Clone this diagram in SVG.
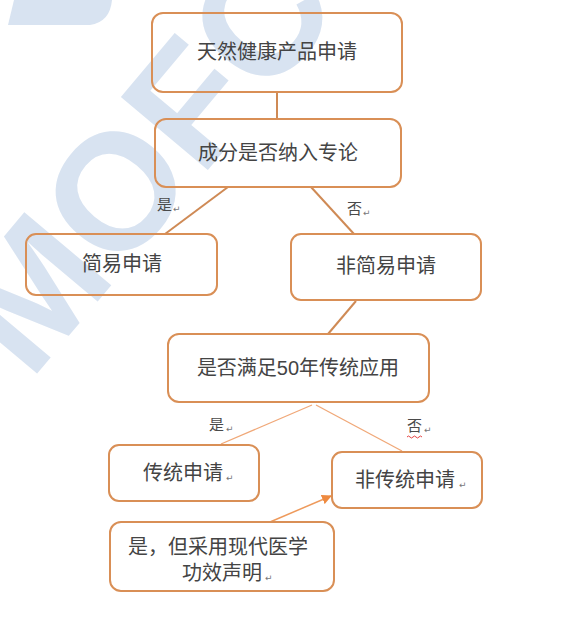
<svg xmlns="http://www.w3.org/2000/svg" width="574" height="618" viewBox="0 0 574 618">
<style>
.box{fill:none;stroke:#d98f56;stroke-width:2}
.t{font-family:"Liberation Sans","Noto Sans CJK SC",sans-serif;font-size:20px;fill:#444444}
.lab{font-family:"Liberation Serif","Noto Sans CJK SC",serif;font-size:15px;fill:#4a4a4a}
.pm{font-family:"DejaVu Sans",sans-serif;font-size:9px;fill:#777}
.c1{stroke:#cf8a55;stroke-width:2;fill:none}
.c2{stroke:#f0a878;stroke-width:1.3;fill:none}
.wm{font-family:"Liberation Sans",sans-serif;font-weight:bold;font-size:165px;fill:#d8e3f1}
</style>
<defs>
<marker id="ah" markerWidth="10" markerHeight="10" refX="9" refY="5" orient="auto" markerUnits="userSpaceOnUse">
<path d="M0,0 L10,5 L0,10 Z" fill="#ee8a40"/>
</marker>
</defs>
<rect width="574" height="618" fill="#ffffff"/>
<g id="watermark">
<text class="wm" transform="translate(30,382) rotate(-50)">MOFCOM</text>
<path d="M14,0 L112,0 Q110,22 90,25 L8,25 Z" fill="#d8e3f1"/>
</g>
<g id="connectors">
<line class="c1" x1="277" y1="92" x2="277" y2="119"/>
<line class="c1" x1="228" y1="187" x2="165" y2="234"/>
<line class="c1" x1="311" y1="187" x2="354" y2="234"/>
<line class="c1" x1="356" y1="301" x2="328" y2="334"/>
<line class="c2" x1="312" y1="405" x2="221" y2="444"/>
<line class="c2" x1="316" y1="405" x2="402" y2="451"/>
<line stroke="#ee9a5c" stroke-width="1.5" x1="270" y1="522" x2="331" y2="496" marker-end="url(#ah)"/>
<text class="lab" x="157" y="210">是</text><text class="pm" x="173" y="212">↵</text>
<text class="lab" x="347" y="214">否</text><text class="pm" x="363" y="216">↵</text>
<text class="lab" x="209" y="430">是</text><text class="pm" x="226" y="432">↵</text>
<text class="lab" x="407" y="431">否</text><text class="pm" x="424" y="433">↵</text>
<path d="M407,437 q1.5,-2 3,0 t3,0 t3,0 t3,0 t3,0" fill="none" stroke="#e03030" stroke-width="0.9"/>
</g>
<g id="n1"><rect class="box" x="152" y="13" width="250" height="79" rx="11"/><text class="t" x="277" y="59" text-anchor="middle">天然健康产品申请</text></g>
<g id="n2"><rect class="box" x="155" y="119" width="246" height="68" rx="11"/><text class="t" x="278" y="160" text-anchor="middle">成分是否纳入专论</text></g>
<g id="n3"><rect class="box" x="26" y="234" width="191" height="61" rx="10"/><text class="t" x="122" y="271" text-anchor="middle">简易申请</text></g>
<g id="n4"><rect class="box" x="291" y="234" width="190" height="66" rx="10"/><text class="t" x="386" y="273" text-anchor="middle">非简易申请</text></g>
<g id="n5"><rect class="box" x="168" y="334" width="261" height="68" rx="11"/><text class="t" x="298" y="375" text-anchor="middle">是否满足50年传统应用</text></g>
<g id="n6"><rect class="box" x="109" y="445" width="150" height="56" rx="10"/><text class="t" x="143" y="480">传统申请</text><text class="pm" x="226" y="481">↵</text></g>
<g id="n7"><rect class="box" x="332" y="452" width="150" height="56" rx="10"/><text class="t" x="355" y="487">非传统申请</text><text class="pm" x="459" y="488">↵</text></g>
<g id="n8"><rect class="box" x="110" y="522" width="224" height="69" rx="11"/><text class="t" x="128" y="554">是，但采用现代医学</text><text class="t" x="182" y="580">功效声明</text><text class="pm" x="265" y="581">↵</text></g>
</svg>
